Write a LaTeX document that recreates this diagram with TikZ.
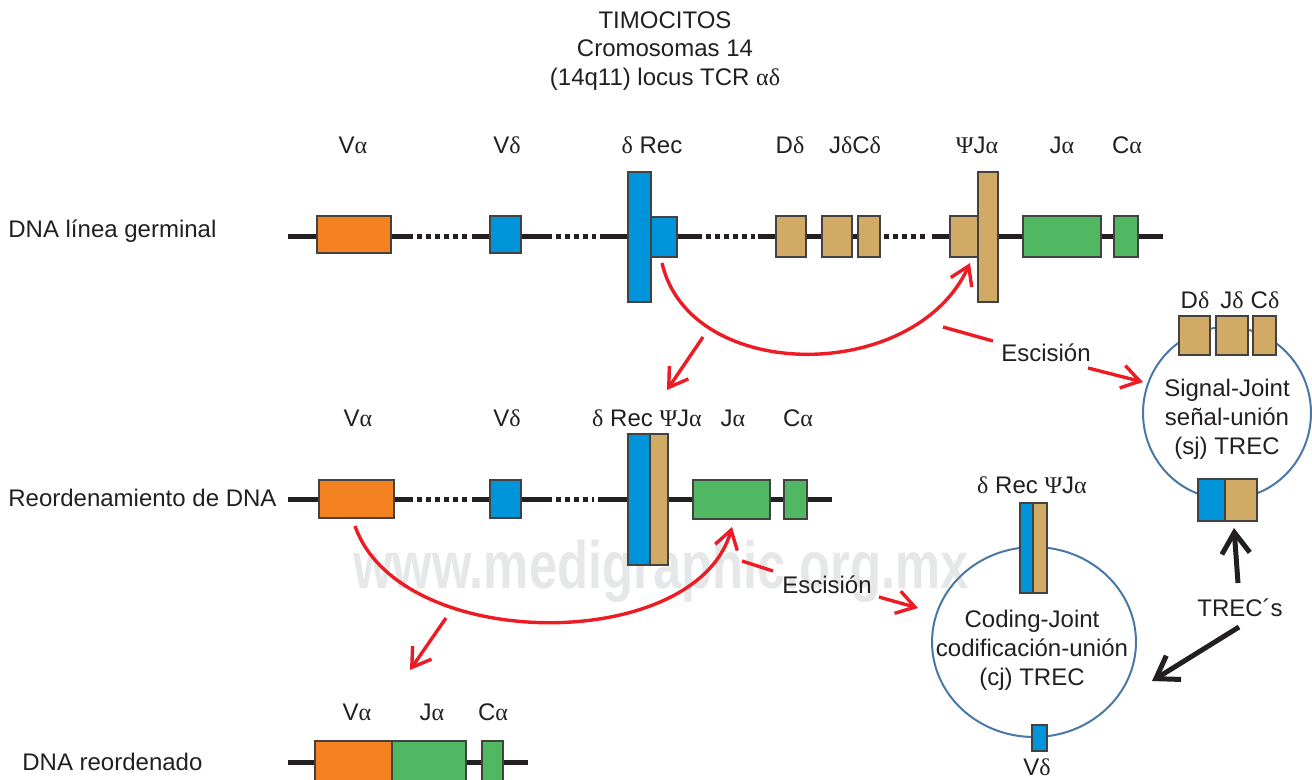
\documentclass[tikz,border=0pt]{standalone}
\usepackage{fontspec}
\setmainfont{Liberation Sans}
\newfontfamily\grkfont{Liberation Serif}
\usepackage{tikz}
\usetikzlibrary{arrows.meta,shapes.geometric}
\definecolor{dnablack}{HTML}{231F20}
\definecolor{vorange}{HTML}{F58220}
\definecolor{segblue}{HTML}{0095DA}
\definecolor{segtan}{HTML}{D1AA66}
\definecolor{seggreen}{HTML}{50B863}
\definecolor{cutred}{HTML}{ED1C24}
\definecolor{ringblue}{HTML}{4A78A6}
\definecolor{markgray}{HTML}{E6E7E8}
\newcommand{\galpha}{{\grkfont α}}
\newcommand{\gdelta}{{\grkfont δ}}
\newcommand{\gPsi}{{\grkfont Ψ}}
% box from left, top, right, bottom (pixel units)
\newcommand{\genebox}[6]{%
  \node[gene, fill=#2, minimum width={(#5-#3)*0.02cm}, minimum height={(#6-#4)*0.02cm}]
    (#1) at ({(#3+#5)/2},{(#4+#6)/2}) {};}
\tikzset{
  gene/.style={draw=dnablack!85, line width=0.035cm, inner sep=0pt, outer sep=0pt},
  dna/.style={draw=dnablack, line width=0.1cm, line cap=butt},
  dnagap/.style={dna, dash pattern=on 0.1cm off 0.08cm},
  txt/.style={font=\fontsize{13.66pt}{16.4pt}\selectfont, text=dnablack, inner sep=0pt, anchor=base},
  ring/.style={ellipse, draw=ringblue, line width=0.04cm, inner sep=0pt},
  cutline/.style={draw=cutred, line width=0.068cm},
  cut/.style={cutline, -{Straight Barb[length=0.36cm,width=0.46cm]}},
  trecarr/.style={draw=dnablack, line width=0.1cm, -{Straight Barb[length=0.42cm,width=0.56cm]}}
}

\begin{document}
\begin{tikzpicture}[x=0.02cm, y=-0.02cm]
  \useasboundingbox (0,0) rectangle (1312,779);

  % watermark
  \node[font=\fontsize{38pt}{38pt}\selectfont\bfseries, text=markgray, xscale=0.76,
        anchor=base west, inner sep=0pt] (mark) at (353,588) {www.medigraphic.org.mx};

  % title
  \node[txt, anchor=center, align=center] (title) at (665,51)
    {TIMOCITOS\\Cromosomas 14\\(14q11) locus TCR \galpha\gdelta};

  % row labels
  \node[txt, anchor=base west] (germ) at (8,237.5) {DNA línea germinal};
  \node[txt, anchor=base west] (reord) at (8,506.5) {Reordenamiento de DNA};
  \node[txt, anchor=base west] (final) at (22,770.5) {DNA reordenado};

  % germline backbone
  \draw[dna] (288,236) -- (413,236);
  \draw[dnagap] (417,236) -- (468,236);
  \draw[dna] (472,236) -- (552,236);
  \draw[dnagap] (556,236) -- (596,236);
  \draw[dna] (600,236) -- (702,236);
  \draw[dnagap] (706,236) -- (755,236);
  \draw[dna] (758,236) -- (880,236);
  \draw[dnagap] (884,236) -- (928,236);
  \draw[dna] (932,236) -- (1163,236);

  \genebox{va1}{vorange}{317}{216}{391}{253}
  \genebox{vd1}{segblue}{490}{216}{521}{253}
  \genebox{rec1s}{segblue}{651}{217}{677}{257}
  \genebox{rec1}{segblue}{628}{172}{651}{302}
  \genebox{dd1}{segtan}{776}{216}{806}{257}
  \genebox{jd1}{segtan}{822}{216}{852}{257}
  \genebox{cd1}{segtan}{858}{216}{880}{257}
  \genebox{psi1s}{segtan}{950}{216}{978}{257}
  \genebox{psi1}{segtan}{978}{172}{998}{302}
  \genebox{ja1}{seggreen}{1023}{216}{1101}{257}
  \genebox{ca1}{seggreen}{1114}{216}{1138}{257}

  \node[txt] (l1va) at (353,153.5) {V\galpha};
  \node[txt] (l1vd) at (507,153.5) {V\gdelta};
  \node[txt] (l1rec) at (652,153.5) {\gdelta{} Rec};
  \node[txt] (l1dd) at (790,153.5) {D\gdelta};
  \node[txt] (l1jc) at (855,153.5) {J\gdelta C\gdelta};
  \node[txt] (l1psi) at (977,153.5) {\gPsi J\galpha};
  \node[txt] (l1ja) at (1062,153.5) {J\galpha};
  \node[txt] (l1ca) at (1127,153.5) {C\galpha};

  % rearranged backbone
  \draw[dna] (288,499) -- (413,499);
  \draw[dnagap] (417,499) -- (468,499);
  \draw[dna] (472,499) -- (552,499);
  \draw[dnagap] (556,499) -- (594,499);
  \draw[dna] (598,499) -- (832,499);

  \genebox{va2}{vorange}{319}{480}{394}{518}
  \genebox{vd2}{segblue}{490}{480}{521}{518}
  \genebox{rec2}{segblue}{628}{434}{650}{565}
  \genebox{psi2}{segtan}{650}{434}{668}{565}
  \genebox{ja2}{seggreen}{693}{480}{770}{519}
  \genebox{ca2}{seggreen}{784}{480}{807}{519}

  \node[txt] (l2va) at (358,426.5) {V\galpha};
  \node[txt] (l2vd) at (507,426.5) {V\gdelta};
  \node[txt] (l2rec) at (647,426.5) {\gdelta{} Rec \gPsi J\galpha};
  \node[txt] (l2ja) at (733,426.5) {J\galpha};
  \node[txt] (l2ca) at (798,426.5) {C\galpha};

  % final backbone
  \draw[dna] (288,762) -- (528,762);
  \genebox{va3}{vorange}{315}{741}{392}{782}
  \genebox{ja3}{seggreen}{392}{741}{466}{782}
  \genebox{ca3}{seggreen}{482}{741}{503}{782}

  \node[txt] (l3va) at (357,720.5) {V\galpha};
  \node[txt] (l3ja) at (432,720.5) {J\galpha};
  \node[txt] (l3ca) at (493,720.5) {C\galpha};

  % excision circles
  \node[ring, minimum width=3.36cm, minimum height=3.44cm] (sj) at (1227,413) {};
  \node[ring, minimum width=4.08cm, minimum height=3.8cm] (cj) at (1034,642) {};

  \genebox{dds}{segtan}{1179}{316}{1210}{355}
  \genebox{jds}{segtan}{1216}{316}{1248}{355}
  \genebox{cds}{segtan}{1253}{316}{1276}{355}
  \genebox{recs}{segblue}{1198}{479}{1225}{521}
  \genebox{psis}{segtan}{1225}{479}{1257}{521}
  \node[txt] (lsdd) at (1195,308.5) {D\gdelta};
  \node[txt] (lsjd) at (1232,308.5) {J\gdelta};
  \node[txt] (lscd) at (1265,308.5) {C\gdelta};
  \node[txt, anchor=center, align=center] (sjtxt) at (1227,419)
    {Signal-Joint\\señal-unión\\(sj) TREC};

  \genebox{recc}{segblue}{1020}{503}{1033}{593}
  \genebox{psic}{segtan}{1033}{503}{1047}{593}
  \genebox{vdc}{segblue}{1032}{725}{1047}{751}
  \node[txt] (lcrec) at (1032,493.5) {\gdelta{} Rec \gPsi J\galpha};
  \node[txt] (lcvd) at (1037,775) {V\gdelta};
  \node[txt, anchor=center, align=center] (cjtxt) at (1032,650)
    {Coding-Joint\\codificación-unión\\(cj) TREC};

  % recombination arcs
  \coordinate (arc1a) at (662,263);
  \coordinate (arc1b) at (970,263);
  \draw[cut] (arc1a) .. controls +(28,121) and +(-55,121) .. (arc1b);
  \coordinate (drop1a) at (703,337);
  \coordinate (drop1b) at (667,390);
  \draw[cut] (drop1a) -- (drop1b);

  \coordinate (arc2a) at (355,526);
  \coordinate (arc2b) at (732,527);
  \draw[cut] (arc2a) .. controls +(45,128) and +(-36,127) .. (arc2b);
  \coordinate (drop2a) at (446,618);
  \coordinate (drop2b) at (410,670);
  \draw[cut] (drop2a) -- (drop2b);

  % excision labels
  \node[txt] (esc1) at (1046,361.5) {Escisión};
  \coordinate (esc1a) at (943,327);
  \coordinate (esc1b) at (993,341);
  \coordinate (esc1c) at (1088,368);
  \coordinate (esc1d) at (1143,382);
  \draw[cutline] (esc1a) -- (esc1b);
  \draw[cut] (esc1c) -- (esc1d);

  \node[txt] (esc2) at (827,593.5) {Escisión};
  \coordinate (esc2a) at (742,561);
  \coordinate (esc2b) at (773,571);
  \coordinate (esc2c) at (879,597);
  \coordinate (esc2d) at (918,608);
  \draw[cutline] (esc2a) -- (esc2b);
  \draw[cut] (esc2c) -- (esc2d);

  % TRECs
  \node[txt] (trec) at (1240,616.5) {TREC´s};
  \coordinate (trecup) at (1238,583);
  \coordinate (trecdn) at (1239,627);
  \draw[trecarr] (trecup) -- (1234,528);
  \draw[trecarr] (trecdn) -- (1152,681);
\end{tikzpicture}
\end{document}
